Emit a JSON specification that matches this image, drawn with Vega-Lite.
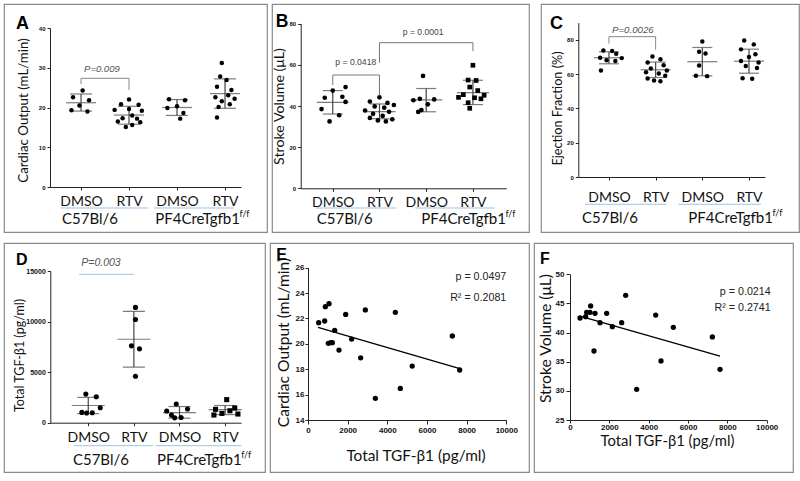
{
"$schema":"https://vega.github.io/schema/vega-lite/v6.json",
"background":"white",
"padding":{"left":3,"top":3,"right":0,"bottom":0},
"config":{"view":{"stroke":"#8a8a8a","strokeWidth":1.2},"axis":{"grid":false,"labelOverlap":false,"tickCount":20,"domainColor":"#222","tickColor":"#222","labelColor":"#111","titleColor":"#111"},"font":"Lato"},
"datasets":{
"A_pts":[
{"c":"C57|DMSO","v":24.3,"j":0.1},{"c":"C57|DMSO","v":22.6,"j":-0.5},{"c":"C57|DMSO","v":21.8,"j":0.5},{"c":"C57|DMSO","v":20.5,"j":-0.1},{"c":"C57|DMSO","v":19.3,"j":-0.6},{"c":"C57|DMSO","v":19.0,"j":0.4},
{"c":"C57|RTV","v":22.0,"j":0.0},{"c":"C57|RTV","v":20.8,"j":-0.5},{"c":"C57|RTV","v":20.7,"j":0.6},{"c":"C57|RTV","v":19.6,"j":0.0},{"c":"C57|RTV","v":19.4,"j":-0.9},{"c":"C57|RTV","v":19.2,"j":0.8},{"c":"C57|RTV","v":18.0,"j":0.2},{"c":"C57|RTV","v":17.3,"j":-0.4},{"c":"C57|RTV","v":17.2,"j":0.5},{"c":"C57|RTV","v":16.5,"j":-0.7},{"c":"C57|RTV","v":16.3,"j":0.7},{"c":"C57|RTV","v":15.6,"j":0.2},{"c":"C57|RTV","v":15.1,"j":-0.2},
{"c":"PF4|DMSO","v":22.1,"j":-0.5},{"c":"PF4|DMSO","v":21.8,"j":0.5},{"c":"PF4|DMSO","v":20.3,"j":0.0},{"c":"PF4|DMSO","v":19.9,"j":-0.6},{"c":"PF4|DMSO","v":18.6,"j":0.4},{"c":"PF4|DMSO","v":17.2,"j":0.2},
{"c":"PF4|RTV","v":31.2,"j":-0.2},{"c":"PF4|RTV","v":27.8,"j":-0.3},{"c":"PF4|RTV","v":26.9,"j":0.1},{"c":"PF4|RTV","v":25.2,"j":-0.5},{"c":"PF4|RTV","v":24.4,"j":0.4},{"c":"PF4|RTV","v":23.1,"j":0.2},{"c":"PF4|RTV","v":22.6,"j":-0.6},{"c":"PF4|RTV","v":22.2,"j":0.6},{"c":"PF4|RTV","v":21.6,"j":-0.2},{"c":"PF4|RTV","v":20.8,"j":0.3},{"c":"PF4|RTV","v":20.1,"j":-0.4},{"c":"PF4|RTV","v":17.5,"j":-0.5}],
"A_sum":[{"c":"C57|DMSO","m":21.2,"lo":19.1,"hi":23.4},{"c":"C57|RTV","m":18.1,"lo":15.8,"hi":20.3},{"c":"PF4|DMSO","m":20.0,"lo":18.0,"hi":22.0},{"c":"PF4|RTV","m":23.5,"lo":19.8,"hi":27.2}],
"B_pts":[
{"c":"C57|DMSO","v":49.2,"j":0.8},{"c":"C57|DMSO","v":47.5,"j":0.0},{"c":"C57|DMSO","v":44.5,"j":0.6},{"c":"C57|DMSO","v":44.0,"j":-0.5},{"c":"C57|DMSO","v":42.0,"j":0.8},{"c":"C57|DMSO","v":38.5,"j":-0.7},{"c":"C57|DMSO","v":35.5,"j":0.4},{"c":"C57|DMSO","v":32.5,"j":-0.2},
{"c":"C57|RTV","v":44.2,"j":0.0},{"c":"C57|RTV","v":42.2,"j":-0.6},{"c":"C57|RTV","v":41.5,"j":0.5},{"c":"C57|RTV","v":40.5,"j":0.9},{"c":"C57|RTV","v":39.8,"j":-0.3},{"c":"C57|RTV","v":39.2,"j":0.3},{"c":"C57|RTV","v":37.8,"j":-0.9},{"c":"C57|RTV","v":37.2,"j":0.6},{"c":"C57|RTV","v":36.2,"j":-0.4},{"c":"C57|RTV","v":35.2,"j":0.2},{"c":"C57|RTV","v":34.2,"j":-0.6},{"c":"C57|RTV","v":33.5,"j":0.8},{"c":"C57|RTV","v":33.0,"j":-0.1},{"c":"C57|RTV","v":32.5,"j":0.4},
{"c":"PF4|DMSO","v":54.6,"j":-0.2},{"c":"PF4|DMSO","v":43.5,"j":-0.4},{"c":"PF4|DMSO","v":43.2,"j":0.5},{"c":"PF4|DMSO","v":42.8,"j":-0.8},{"c":"PF4|DMSO","v":40.8,"j":0.1},{"c":"PF4|DMSO","v":38.0,"j":-0.3},{"c":"PF4|DMSO","v":37.1,"j":-0.5},
{"c":"PF4|RTV","v":59.8,"j":0.0},{"c":"PF4|RTV","v":52.6,"j":-0.3},{"c":"PF4|RTV","v":52.4,"j":0.2},{"c":"PF4|RTV","v":49.2,"j":-0.2},{"c":"PF4|RTV","v":47.5,"j":0.3},{"c":"PF4|RTV","v":45.5,"j":-0.6},{"c":"PF4|RTV","v":45.2,"j":0.7},{"c":"PF4|RTV","v":44.2,"j":-0.9},{"c":"PF4|RTV","v":44.0,"j":0.1},{"c":"PF4|RTV","v":43.5,"j":0.5},{"c":"PF4|RTV","v":41.6,"j":-0.3},{"c":"PF4|RTV","v":38.9,"j":-0.2}],
"B_sum":[{"c":"C57|DMSO","m":41.8,"lo":36.1,"hi":47.5},{"c":"C57|RTV","m":37.3,"lo":33.8,"hi":41.0},{"c":"PF4|DMSO","m":43.0,"lo":37.2,"hi":48.5},{"c":"PF4|RTV","m":46.5,"lo":40.7,"hi":52.5}],
"C_pts":[
{"c":"C57|DMSO","v":73.8,"j":-0.35},{"c":"C57|DMSO","v":73.4,"j":0.2},{"c":"C57|DMSO","v":71.8,"j":0.45},{"c":"C57|DMSO","v":69.5,"j":-0.55},{"c":"C57|DMSO","v":69.3,"j":0.8},{"c":"C57|DMSO","v":68.0,"j":-0.15},{"c":"C57|DMSO","v":67.6,"j":0.4},{"c":"C57|DMSO","v":62.1,"j":-0.5},
{"c":"C57|RTV","v":70.2,"j":-0.2},{"c":"C57|RTV","v":68.6,"j":0.3},{"c":"C57|RTV","v":66.8,"j":-0.5},{"c":"C57|RTV","v":65.2,"j":0.5},{"c":"C57|RTV","v":63.2,"j":-0.3},{"c":"C57|RTV","v":62.1,"j":0.7},{"c":"C57|RTV","v":61.0,"j":-0.6},{"c":"C57|RTV","v":60.3,"j":0.2},{"c":"C57|RTV","v":59.0,"j":0.6},{"c":"C57|RTV","v":57.4,"j":-0.5},{"c":"C57|RTV","v":56.2,"j":-0.1},{"c":"C57|RTV","v":55.8,"j":0.3},
{"c":"PF4|DMSO","v":79.0,"j":0.0},{"c":"PF4|DMSO","v":73.0,"j":-0.2},{"c":"PF4|DMSO","v":72.0,"j":0.2},{"c":"PF4|DMSO","v":65.0,"j":-0.2},{"c":"PF4|DMSO","v":59.0,"j":-0.4},{"c":"PF4|DMSO","v":58.8,"j":0.3},
{"c":"PF4|RTV","v":79.6,"j":-0.3},{"c":"PF4|RTV","v":77.3,"j":0.3},{"c":"PF4|RTV","v":74.4,"j":-0.5},{"c":"PF4|RTV","v":71.5,"j":0.4},{"c":"PF4|RTV","v":69.9,"j":0.0},{"c":"PF4|RTV","v":67.6,"j":-0.5},{"c":"PF4|RTV","v":66.8,"j":0.6},{"c":"PF4|RTV","v":64.7,"j":-0.2},{"c":"PF4|RTV","v":63.6,"j":0.5},{"c":"PF4|RTV","v":57.5,"j":-0.4},{"c":"PF4|RTV","v":57.3,"j":0.2}],
"C_sum":[{"c":"C57|DMSO","m":69.5,"lo":66.0,"hi":73.0},{"c":"C57|RTV","m":62.5,"lo":58.0,"hi":67.0},{"c":"PF4|DMSO","m":67.2,"lo":59.0,"hi":75.5},{"c":"PF4|RTV","m":67.5,"lo":60.5,"hi":74.5}],
"D_pts":[
{"c":"C57|DMSO","v":2830,"j":-0.15},{"c":"C57|DMSO","v":2570,"j":0.5},{"c":"C57|DMSO","v":1480,"j":0.75},{"c":"C57|DMSO","v":1020,"j":-0.4},{"c":"C57|DMSO","v":960,"j":-0.1},{"c":"C57|DMSO","v":990,"j":0.25},
{"c":"C57|RTV","v":11400,"j":0.1},{"c":"C57|RTV","v":10200,"j":0.1},{"c":"C57|RTV","v":7600,"j":-0.15},{"c":"C57|RTV","v":7300,"j":0.35},{"c":"C57|RTV","v":4600,"j":0.1},
{"c":"PF4|DMSO","v":1850,"j":-0.2},{"c":"PF4|DMSO","v":1350,"j":0.5},{"c":"PF4|DMSO","v":1150,"j":-0.8},{"c":"PF4|DMSO","v":750,"j":-0.5},{"c":"PF4|DMSO","v":520,"j":0.1},{"c":"PF4|DMSO","v":480,"j":-0.3},
{"c":"PF4|RTV","v":2280,"j":0.1},{"c":"PF4|RTV","v":1450,"j":0.6},{"c":"PF4|RTV","v":1320,"j":-0.6},{"c":"PF4|RTV","v":1180,"j":0.3},{"c":"PF4|RTV","v":920,"j":-0.2},{"c":"PF4|RTV","v":860,"j":0.8},{"c":"PF4|RTV","v":760,"j":-0.7}],
"D_sum":[{"c":"C57|DMSO","m":1700,"lo":900,"hi":2500},{"c":"C57|RTV","m":8250,"lo":5500,"hi":11000},{"c":"PF4|DMSO","m":1000,"lo":450,"hi":1600},{"c":"PF4|RTV","m":1300,"lo":800,"hi":1700}],
"E_pts":[{"tgf":538,"co":21.67},{"tgf":840,"co":21.8},{"tgf":874,"co":22.93},{"tgf":1059,"co":23.16},{"tgf":1025,"co":20.04},{"tgf":1150,"co":20.1},{"tgf":1227,"co":20.09},{"tgf":1345,"co":21.06},{"tgf":1563,"co":19.51},{"tgf":1900,"co":22.32},{"tgf":2202,"co":20.38},{"tgf":2656,"co":18.9},{"tgf":2891,"co":22.67},{"tgf":3396,"co":15.71},{"tgf":4404,"co":22.48},{"tgf":4656,"co":16.49},{"tgf":5254,"co":18.25},{"tgf":7279,"co":20.62},{"tgf":7649,"co":17.94}],
"E_fit":[{"tgf":504,"co":21.3},{"tgf":7699,"co":18.02}],
"F_pts":[{"tgf":508,"sv":42.5},{"tgf":797,"sv":42.73},{"tgf":848,"sv":43.48},{"tgf":1017,"sv":43.48},{"tgf":1051,"sv":44.57},{"tgf":1271,"sv":43.3},{"tgf":1220,"sv":36.84},{"tgf":1526,"sv":41.7},{"tgf":1864,"sv":43.3},{"tgf":2153,"sv":41.02},{"tgf":2627,"sv":41.7},{"tgf":2831,"sv":46.4},{"tgf":3390,"sv":30.26},{"tgf":4356,"sv":43.0},{"tgf":4627,"sv":35.13},{"tgf":5254,"sv":40.9},{"tgf":7237,"sv":39.25},{"tgf":7627,"sv":33.7}],
"F_fit":[{"tgf":593,"sv":42.73},{"tgf":7627,"sv":35.98}]
},
"spacing":9,
"vconcat":[
{"spacing":10,"hconcat":[
{"spacing":3,"hconcat":[
{"width":263,"height":228,
"layer":[
{"data":{"name":"A_sum"},"mark":{"type":"rule","color":"#444","strokeWidth":1.2},
"encoding":{"x":{"field":"c","type":"nominal","scale":{"type":"point","domain":["C57|DMSO","C57|RTV","PF4|DMSO","PF4|RTV"],"range":[46,237],"padding":0.49,"align":0.66},"axis":{"title":null,"labelExpr":"split(datum.label,'|')[1]","offset":-45,"tickSize":3,"labelPadding":4,"labelAngle":0,"labelFont":"Lato","labelFontSize":14}},
"y":{"field":"lo","type":"quantitative","scale":{"domain":[0,40],"range":[183,24],"nice":false,"zero":false},"axis":{"title":"Cardiac Output (mL/min)","values":[0,10,20,30,40],"tickCount":20,"labelOverlap":false,"offset":-46,"tickSize":3,"labelPadding":2,"labelFont":"Liberation Sans","labelFontWeight":"bold","labelFontSize":6,"titleFont":"Lato","titleFontSize":13.3,"titleFontWeight":"normal","titleAngle":-90,"titleAlign":"center","titleBaseline":"middle","titleX":-27,"titleY":106}},
"y2":{"field":"hi"}}},
{"data":{"name":"A_sum"},"mark":{"type":"tick","color":"#444","thickness":1.2,"size":30},"encoding":{"x":{"field":"c","type":"nominal"},"y":{"field":"m","type":"quantitative"}}},
{"data":{"name":"A_sum"},"mark":{"type":"tick","color":"#444","thickness":1.2,"size":22},"encoding":{"x":{"field":"c","type":"nominal"},"y":{"field":"lo","type":"quantitative"}}},
{"data":{"name":"A_sum"},"mark":{"type":"tick","color":"#444","thickness":1.2,"size":22},"encoding":{"x":{"field":"c","type":"nominal"},"y":{"field":"hi","type":"quantitative"}}},
{"data":{"name":"A_pts"},"mark":{"type":"point","filled":true,"color":"#000","opacity":1,"size":20},"encoding":{"x":{"field":"c","type":"nominal"},"xOffset":{"field":"j","type":"quantitative","scale":{"domain":[-1,1],"range":[-16,16]}},"y":{"field":"v","type":"quantitative"}}},
{"data":{"values":[{}]},"mark":{"type":"text","align":"left","baseline":"top","dx":-65,"font":"Liberation Sans","fontSize":18,"fontWeight":"bold","color":"#000"},"encoding":{"x":{"datum":"C57|DMSO"},"y":{"datum":43.35},"text":{"value":"A"}}},
{"data":{"values":[{}]},"mark":{"type":"rule","color":"#888","strokeWidth":1},"encoding":{"x":{"datum":"C57|DMSO"},"x2":{"datum":"C57|RTV"},"y":{"datum":27.35}}},
{"data":{"values":[{}]},"mark":{"type":"rule","color":"#888","strokeWidth":1},"encoding":{"x":{"datum":"C57|DMSO"},"y":{"datum":27.35},"y2":{"datum":25.9}}},
{"data":{"values":[{}]},"mark":{"type":"rule","color":"#888","strokeWidth":1},"encoding":{"x":{"datum":"C57|RTV"},"y":{"datum":27.35},"y2":{"datum":24.4}}},
{"data":{"values":[{}]},"mark":{"type":"text","align":"left","baseline":"bottom","dx":3,"font":"Liberation Sans","fontStyle":"italic","fontSize":9.5,"color":"#555"},"encoding":{"x":{"datum":"C57|DMSO"},"y":{"datum":28.5},"text":{"value":"P=0.009"}}},
{"data":{"values":[{}]},"mark":{"type":"rule","color":"#9dc3e6","strokeWidth":1,"xOffset":-20,"x2Offset":19},"encoding":{"x":{"datum":"C57|DMSO"},"x2":{"datum":"C57|RTV"},"y":{"datum":-5.28}}},
{"data":{"values":[{}]},"mark":{"type":"rule","color":"#9dc3e6","strokeWidth":1,"xOffset":-23,"x2Offset":9},"encoding":{"x":{"datum":"PF4|DMSO"},"x2":{"datum":"PF4|RTV"},"y":{"datum":-5.28}}},
{"data":{"values":[{}]},"mark":{"type":"text","align":"center","baseline":"middle","dx":9,"font":"Lato","fontSize":15,"color":"#111"},"encoding":{"x":{"datum":"C57|DMSO"},"y":{"datum":-8.05},"text":{"value":"C57Bl/6"}}},
{"data":{"values":[{}]},"mark":{"type":"text","align":"right","baseline":"middle","dx":15,"font":"Lato","fontSize":15,"color":"#111"},"encoding":{"x":{"datum":"PF4|RTV"},"y":{"datum":-8.05},"text":{"value":"PF4CreTgfb1"}}},
{"data":{"values":[{}]},"mark":{"type":"text","align":"left","baseline":"middle","dx":14.5,"dy":-5,"font":"Lato","fontSize":9,"color":"#111"},"encoding":{"x":{"datum":"PF4|RTV"},"y":{"datum":-8.05},"text":{"value":"f/f"}}}
]},
{"width":257,"height":228,
"layer":[
{"data":{"name":"B_sum"},"mark":{"type":"rule","color":"#444","strokeWidth":1.2},
"encoding":{"x":{"field":"c","type":"nominal","scale":{"type":"point","domain":["C57|DMSO","C57|RTV","PF4|DMSO","PF4|RTV"],"range":[28.7,234.3],"padding":0.7,"align":0.49},"axis":{"title":null,"labelExpr":"split(datum.label,'|')[1]","offset":-43.7,"tickSize":3,"labelPadding":4,"labelAngle":0,"labelFont":"Lato","labelFontSize":14}},
"y":{"field":"lo","type":"quantitative","scale":{"domain":[0,80],"range":[184.3,19.7],"nice":false,"zero":false},"axis":{"title":"Stroke Volume (μL)","values":[0,20,40,60,80],"tickCount":20,"labelOverlap":false,"offset":-28.7,"tickSize":3,"labelPadding":2,"labelFont":"Liberation Sans","labelFontWeight":"bold","labelFontSize":6,"titleFont":"Lato","titleFontSize":14.2,"titleFontWeight":"normal","titleAngle":-90,"titleAlign":"center","titleBaseline":"middle","titleX":-21,"titleY":102}},
"y2":{"field":"hi"}}},
{"data":{"name":"B_sum"},"mark":{"type":"tick","color":"#444","thickness":1.2,"size":32},"encoding":{"x":{"field":"c","type":"nominal"},"y":{"field":"m","type":"quantitative"}}},
{"data":{"name":"B_sum"},"mark":{"type":"tick","color":"#444","thickness":1.2,"size":20},"encoding":{"x":{"field":"c","type":"nominal"},"y":{"field":"lo","type":"quantitative"}}},
{"data":{"name":"B_sum"},"mark":{"type":"tick","color":"#444","thickness":1.2,"size":20},"encoding":{"x":{"field":"c","type":"nominal"},"y":{"field":"hi","type":"quantitative"}}},
{"data":{"name":"B_pts"},"mark":{"type":"point","filled":true,"color":"#000","opacity":1,"size":22},"encoding":{"x":{"field":"c","type":"nominal"},"xOffset":{"field":"j","type":"quantitative","scale":{"domain":[-1,1],"range":[-16,16]}},"y":{"field":"v","type":"quantitative"},"shape":{"field":"c","type":"nominal","scale":{"domain":["C57|DMSO","C57|RTV","PF4|DMSO","PF4|RTV"],"range":["circle","circle","circle","square"]},"legend":null}}},
{"data":{"values":[{}]},"mark":{"type":"text","align":"left","baseline":"top","dx":-57,"font":"Liberation Sans","fontSize":17.5,"fontWeight":"bold","color":"#000"},"encoding":{"x":{"datum":"C57|DMSO"},"y":{"datum":85.2},"text":{"value":"B"}}},
{"data":{"values":[{}]},"mark":{"type":"rule","color":"#777","strokeWidth":1},"encoding":{"x":{"datum":"C57|DMSO"},"x2":{"datum":"C57|RTV"},"y":{"datum":55.07}}},
{"data":{"values":[{}]},"mark":{"type":"rule","color":"#777","strokeWidth":1},"encoding":{"x":{"datum":"C57|DMSO"},"y":{"datum":55.07},"y2":{"datum":50.2}}},
{"data":{"values":[{}]},"mark":{"type":"rule","color":"#777","strokeWidth":1},"encoding":{"x":{"datum":"C57|RTV"},"y":{"datum":55.07},"y2":{"datum":45.2}}},
{"data":{"values":[{}]},"mark":{"type":"text","align":"center","baseline":"bottom","dx":23,"font":"Liberation Sans","fontSize":8.6,"color":"#444"},"encoding":{"x":{"datum":"C57|DMSO"},"y":{"datum":58.96},"text":{"value":"p = 0.0418"}}},
{"data":{"values":[{}]},"mark":{"type":"rule","color":"#777","strokeWidth":1},"encoding":{"x":{"datum":"C57|RTV"},"x2":{"datum":"PF4|RTV"},"y":{"datum":70.77}}},
{"data":{"values":[{}]},"mark":{"type":"rule","color":"#777","strokeWidth":1},"encoding":{"x":{"datum":"C57|RTV"},"y":{"datum":70.77},"y2":{"datum":61.05}}},
{"data":{"values":[{}]},"mark":{"type":"rule","color":"#777","strokeWidth":1},"encoding":{"x":{"datum":"PF4|RTV"},"y":{"datum":70.77},"y2":{"datum":66.7}}},
{"data":{"values":[{}]},"mark":{"type":"text","align":"center","baseline":"bottom","dx":-3,"font":"Liberation Sans","fontSize":8.6,"color":"#444"},"encoding":{"x":{"datum":"PF4|DMSO"},"y":{"datum":73.5},"text":{"value":"p = 0.0001"}}},
{"data":{"values":[{}]},"mark":{"type":"rule","color":"#9dc3e6","strokeWidth":1,"xOffset":-17,"x2Offset":17},"encoding":{"x":{"datum":"C57|DMSO"},"x2":{"datum":"C57|RTV"},"y":{"datum":-9.57}}},
{"data":{"values":[{}]},"mark":{"type":"rule","color":"#9dc3e6","strokeWidth":1,"xOffset":-11,"x2Offset":22},"encoding":{"x":{"datum":"PF4|DMSO"},"x2":{"datum":"PF4|RTV"},"y":{"datum":-9.57}}},
{"data":{"values":[{}]},"mark":{"type":"text","align":"center","baseline":"middle","dx":12,"font":"Lato","fontSize":15,"color":"#111"},"encoding":{"x":{"datum":"C57|DMSO"},"y":{"datum":-14.9},"text":{"value":"C57Bl/6"}}},
{"data":{"values":[{}]},"mark":{"type":"text","align":"right","baseline":"middle","dx":33,"font":"Lato","fontSize":15,"color":"#111"},"encoding":{"x":{"datum":"PF4|RTV"},"y":{"datum":-14.9},"text":{"value":"PF4CreTgfb1"}}},
{"data":{"values":[{}]},"mark":{"type":"text","align":"left","baseline":"middle","dx":32.5,"dy":-5,"font":"Lato","fontSize":9,"color":"#111"},"encoding":{"x":{"datum":"PF4|RTV"},"y":{"datum":-14.9},"text":{"value":"f/f"}}}
]}
]},
{"width":258,"height":228,
"layer":[
{"data":{"name":"C_sum"},"mark":{"type":"rule","color":"#444","strokeWidth":1.2},
"encoding":{"x":{"field":"c","type":"nominal","scale":{"type":"point","domain":["C57|DMSO","C57|RTV","PF4|DMSO","PF4|RTV"],"range":[37.3,224],"padding":0.5,"align":0.657},"axis":{"title":null,"labelExpr":"split(datum.label,'|')[1]","offset":-55,"tickSize":3,"labelPadding":10,"labelAngle":0,"labelFont":"Lato","labelFontSize":14}},
"y":{"field":"lo","type":"quantitative","scale":{"domain":[0,90],"range":[173,18.6],"nice":false,"zero":false},"axis":{"title":"Ejection Fraction (%)","values":[0,20,40,60,80],"tickCount":20,"labelOverlap":false,"offset":-37.3,"tickSize":3,"labelPadding":2,"labelFont":"Liberation Sans","labelFontWeight":"bold","labelFontSize":6,"titleFont":"Lato","titleFontSize":12.7,"titleFontWeight":"normal","titleAngle":-90,"titleAlign":"center","titleBaseline":"middle","titleX":-20.8,"titleY":104}},
"y2":{"field":"hi"}}},
{"data":{"name":"C_sum"},"mark":{"type":"tick","color":"#444","thickness":1.2,"size":30},"encoding":{"x":{"field":"c","type":"nominal"},"y":{"field":"m","type":"quantitative"}}},
{"data":{"name":"C_sum"},"mark":{"type":"tick","color":"#444","thickness":1.2,"size":20},"encoding":{"x":{"field":"c","type":"nominal"},"y":{"field":"lo","type":"quantitative"}}},
{"data":{"name":"C_sum"},"mark":{"type":"tick","color":"#444","thickness":1.2,"size":20},"encoding":{"x":{"field":"c","type":"nominal"},"y":{"field":"hi","type":"quantitative"}}},
{"data":{"name":"C_pts"},"mark":{"type":"point","filled":true,"color":"#000","opacity":1,"size":20},"encoding":{"x":{"field":"c","type":"nominal"},"xOffset":{"field":"j","type":"quantitative","scale":{"domain":[-1,1],"range":[-16,16]}},"y":{"field":"v","type":"quantitative"}}},
{"data":{"values":[{}]},"mark":{"type":"text","align":"left","baseline":"top","dx":-59,"font":"Liberation Sans","fontSize":18,"fontWeight":"bold","color":"#000"},"encoding":{"x":{"datum":"C57|DMSO"},"y":{"datum":94.6},"text":{"value":"C"}}},
{"data":{"values":[{}]},"mark":{"type":"rule","color":"#888","strokeWidth":1},"encoding":{"x":{"datum":"C57|DMSO"},"x2":{"datum":"C57|RTV"},"y":{"datum":81.8}}},
{"data":{"values":[{}]},"mark":{"type":"rule","color":"#888","strokeWidth":1},"encoding":{"x":{"datum":"C57|DMSO"},"y":{"datum":81.8},"y2":{"datum":77.7}}},
{"data":{"values":[{}]},"mark":{"type":"rule","color":"#888","strokeWidth":1},"encoding":{"x":{"datum":"C57|RTV"},"y":{"datum":81.8},"y2":{"datum":74.2}}},
{"data":{"values":[{}]},"mark":{"type":"text","align":"left","baseline":"bottom","dx":3,"font":"Liberation Sans","fontStyle":"italic","fontSize":9.7,"color":"#555"},"encoding":{"x":{"datum":"C57|DMSO"},"y":{"datum":82.9},"text":{"value":"P=0.0026"}}},
{"data":{"values":[{}]},"mark":{"type":"rule","color":"#9dc3e6","strokeWidth":1,"xOffset":-24,"x2Offset":11},"encoding":{"x":{"datum":"C57|DMSO"},"x2":{"datum":"C57|RTV"},"y":{"datum":-15.9}}},
{"data":{"values":[{}]},"mark":{"type":"rule","color":"#9dc3e6","strokeWidth":1,"xOffset":-24,"x2Offset":12},"encoding":{"x":{"datum":"PF4|DMSO"},"x2":{"datum":"PF4|RTV"},"y":{"datum":-15.9}}},
{"data":{"values":[{}]},"mark":{"type":"text","align":"center","baseline":"middle","dx":1,"font":"Lato","fontSize":15,"color":"#111"},"encoding":{"x":{"datum":"C57|DMSO"},"y":{"datum":-23.7},"text":{"value":"C57Bl/6"}}},
{"data":{"values":[{}]},"mark":{"type":"text","align":"right","baseline":"middle","dx":24,"font":"Lato","fontSize":15,"color":"#111"},"encoding":{"x":{"datum":"PF4|RTV"},"y":{"datum":-23.7},"text":{"value":"PF4CreTgfb1"}}},
{"data":{"values":[{}]},"mark":{"type":"text","align":"left","baseline":"middle","dx":23.5,"dy":-5,"font":"Lato","fontSize":9,"color":"#111"},"encoding":{"x":{"datum":"PF4|RTV"},"y":{"datum":-23.7},"text":{"value":"f/f"}}}
]}
]},
{"spacing":3,"hconcat":[
{"width":261,"height":229,
"layer":[
{"data":{"name":"D_sum"},"mark":{"type":"rule","color":"#444","strokeWidth":1.2},
"encoding":{"x":{"field":"c","type":"nominal","scale":{"type":"point","domain":["C57|DMSO","C57|RTV","PF4|DMSO","PF4|RTV"],"range":[46.3,237],"padding":0.59,"align":0.705},"axis":{"title":null,"labelExpr":"split(datum.label,'|')[1]","offset":-49.3,"tickSize":3,"labelPadding":5,"labelAngle":0,"labelFont":"Lato","labelFontSize":14}},
"y":{"field":"lo","type":"quantitative","scale":{"domain":[0,15000],"range":[179.7,28],"nice":false,"zero":false},"axis":{"title":"Total TGF-β1 (pg/ml)","values":[0,5000,10000,15000],"tickCount":20,"labelOverlap":false,"format":"d","offset":-46.3,"tickSize":3,"labelPadding":2,"labelFont":"Liberation Sans","labelFontWeight":"bold","labelFontSize":7,"titleFont":"Lato","titleFontSize":12.5,"titleFontWeight":"normal","titleAngle":-90,"titleAlign":"center","titleBaseline":"middle","titleX":-31,"titleY":112}},
"y2":{"field":"hi"}}},
{"data":{"name":"D_sum"},"mark":{"type":"tick","color":"#444","thickness":1.2,"size":33},"encoding":{"x":{"field":"c","type":"nominal"},"y":{"field":"m","type":"quantitative"}}},
{"data":{"name":"D_sum"},"mark":{"type":"tick","color":"#444","thickness":1.2,"size":22},"encoding":{"x":{"field":"c","type":"nominal"},"y":{"field":"lo","type":"quantitative"}}},
{"data":{"name":"D_sum"},"mark":{"type":"tick","color":"#444","thickness":1.2,"size":22},"encoding":{"x":{"field":"c","type":"nominal"},"y":{"field":"hi","type":"quantitative"}}},
{"data":{"name":"D_pts"},"mark":{"type":"point","filled":true,"color":"#000","opacity":1,"size":26},"encoding":{"x":{"field":"c","type":"nominal"},"xOffset":{"field":"j","type":"quantitative","scale":{"domain":[-1,1],"range":[-16,16]}},"y":{"field":"v","type":"quantitative"},"shape":{"field":"c","type":"nominal","scale":{"domain":["C57|DMSO","C57|RTV","PF4|DMSO","PF4|RTV"],"range":["circle","square","triangle-up","triangle-down"]},"legend":null}}},
{"data":{"values":[{}]},"mark":{"type":"text","align":"left","baseline":"top","dx":-72.2,"font":"Liberation Sans","fontSize":16,"fontWeight":"bold","color":"#000"},"encoding":{"x":{"datum":"C57|DMSO"},"y":{"datum":16869},"text":{"value":"D"}}},
{"data":{"values":[{}]},"mark":{"type":"rule","color":"#9dc3e6","strokeWidth":1,"xOffset":-9,"x2Offset":0},"encoding":{"x":{"datum":"C57|DMSO"},"x2":{"datum":"C57|RTV"},"y":{"datum":14674}}},
{"data":{"values":[{}]},"mark":{"type":"text","align":"left","baseline":"bottom","dx":-7,"font":"Liberation Sans","fontStyle":"italic","fontSize":10.5,"color":"#555"},"encoding":{"x":{"datum":"C57|DMSO"},"y":{"datum":15267},"text":{"value":"P=0.003"}}},
{"data":{"values":[{}]},"mark":{"type":"rule","color":"#9dc3e6","strokeWidth":1,"xOffset":-14,"x2Offset":19},"encoding":{"x":{"datum":"C57|DMSO"},"x2":{"datum":"C57|RTV"},"y":{"datum":-2274}}},
{"data":{"values":[{}]},"mark":{"type":"rule","color":"#9dc3e6","strokeWidth":1,"xOffset":-23.5,"x2Offset":16.6},"encoding":{"x":{"datum":"PF4|DMSO"},"x2":{"datum":"PF4|RTV"},"y":{"datum":-2274}}},
{"data":{"values":[{}]},"mark":{"type":"text","align":"center","baseline":"middle","dx":12.7,"font":"Lato","fontSize":15,"color":"#111"},"encoding":{"x":{"datum":"C57|DMSO"},"y":{"datum":-3688},"text":{"value":"C57Bl/6"}}},
{"data":{"values":[{}]},"mark":{"type":"text","align":"right","baseline":"middle","dx":16.6,"font":"Lato","fontSize":15,"color":"#111"},"encoding":{"x":{"datum":"PF4|RTV"},"y":{"datum":-3688},"text":{"value":"PF4CreTgfb1"}}},
{"data":{"values":[{}]},"mark":{"type":"text","align":"left","baseline":"middle","dx":16.1,"dy":-5,"font":"Lato","fontSize":9,"color":"#111"},"encoding":{"x":{"datum":"PF4|RTV"},"y":{"datum":-3688},"text":{"value":"f/f"}}}
]},
{"width":259,"height":229,
"layer":[
{"data":{"name":"E_pts"},"mark":{"type":"circle","color":"#000","opacity":1,"size":28},
"encoding":{"x":{"field":"tgf","type":"quantitative","scale":{"domain":[0,10000],"range":[38,236.3],"nice":false,"zero":false},"axis":{"title":"Total TGF-β1 (pg/ml)","values":[0,2000,4000,6000,8000,10000],"tickCount":20,"labelOverlap":false,"format":"d","offset":-52,"tickSize":4,"labelPadding":2,"labelFlush":false,"labelFont":"Liberation Sans","labelFontWeight":"bold","labelFontSize":8,"titleFont":"Lato","titleFontSize":15.4,"titleFontWeight":"normal","titleAlign":"center","titleBaseline":"middle","titleX":145.5,"titleY":35}},
"y":{"field":"co","type":"quantitative","scale":{"domain":[14,26],"range":[177,24.7],"nice":false,"zero":false},"axis":{"title":"Cardiac Output (mL/min)","values":[14,16,18,20,22,24,26],"tickCount":20,"format":"d","labelOverlap":false,"offset":-38,"tickSize":3,"labelPadding":1,"labelFont":"Liberation Sans","labelFontWeight":"bold","labelFontSize":8,"titleFont":"Lato","titleFontSize":15.6,"titleFontWeight":"normal","titleAngle":-90,"titleAlign":"center","titleBaseline":"middle","titleX":-25,"titleY":99}}}},
{"data":{"name":"E_fit"},"mark":{"type":"line","color":"#000","strokeWidth":1.3},"encoding":{"x":{"field":"tgf","type":"quantitative"},"y":{"field":"co","type":"quantitative"}}},
{"data":{"values":[{}]},"mark":{"type":"text","align":"left","baseline":"top","font":"Liberation Sans","fontSize":16,"fontWeight":"bold","color":"#000"},"encoding":{"x":{"datum":-1599},"y":{"datum":27.6},"text":{"value":"E"}}},
{"data":{"values":[{}]},"mark":{"type":"text","align":"right","baseline":"middle","font":"Liberation Sans","fontSize":10.7,"color":"#222"},"encoding":{"x":{"datum":10000},"y":{"datum":25.29},"text":{"value":"p = 0.0497"}}},
{"data":{"values":[{}]},"mark":{"type":"text","align":"right","baseline":"middle","font":"Liberation Sans","fontSize":10.7,"color":"#222"},"encoding":{"x":{"datum":10000},"y":{"datum":23.64},"text":{"value":"R² = 0.2081"}}}
]},
{"width":259,"height":229,
"layer":[
{"data":{"name":"F_pts"},"mark":{"type":"circle","color":"#000","opacity":1,"size":28},
"encoding":{"x":{"field":"tgf","type":"quantitative","scale":{"domain":[0,10000],"range":[36,232.7],"nice":false,"zero":false},"axis":{"title":"Total TGF-β1 (pg/ml)","values":[0,2000,4000,6000,8000,10000],"tickCount":20,"labelOverlap":false,"format":"d","offset":-52,"tickSize":3,"labelPadding":0,"labelFlush":false,"labelFont":"Liberation Sans","labelFontWeight":"bold","labelFontSize":8,"titleFont":"Lato","titleFontSize":14.8,"titleFontWeight":"normal","titleAlign":"center","titleBaseline":"alphabetic","titleX":133,"titleY":25}},
"y":{"field":"sv","type":"quantitative","scale":{"domain":[25,50],"range":[177,31.3],"nice":false,"zero":false},"axis":{"title":"Stroke Volume (μL)","values":[25,30,35,40,45,50],"tickCount":20,"labelOverlap":false,"offset":-36,"tickSize":4,"labelPadding":2,"labelFont":"Liberation Sans","labelFontWeight":"bold","labelFontSize":8,"titleFont":"Lato","titleFontSize":15.7,"titleFontWeight":"normal","titleAngle":-90,"titleAlign":"center","titleBaseline":"middle","titleX":-25,"titleY":95}}}},
{"data":{"name":"F_fit"},"mark":{"type":"line","color":"#000","strokeWidth":1.3},"encoding":{"x":{"field":"tgf","type":"quantitative"},"y":{"field":"sv","type":"quantitative"}}},
{"data":{"values":[{}]},"mark":{"type":"text","align":"left","baseline":"top","font":"Liberation Sans","fontSize":16,"fontWeight":"bold","color":"#000"},"encoding":{"x":{"datum":-1525},"y":{"datum":53.98},"text":{"value":"F"}}},
{"data":{"values":[{}]},"mark":{"type":"text","align":"right","baseline":"middle","dx":4,"font":"Liberation Sans","fontSize":10.7,"color":"#222"},"encoding":{"x":{"datum":10000},"y":{"datum":47.0},"text":{"value":"p = 0.0214"}}},
{"data":{"values":[{}]},"mark":{"type":"text","align":"right","baseline":"middle","dx":4,"font":"Liberation Sans","fontSize":10.7,"color":"#222"},"encoding":{"x":{"datum":10000},"y":{"datum":44.2},"text":{"value":"R² = 0.2741"}}}
]}
]}
]
}
